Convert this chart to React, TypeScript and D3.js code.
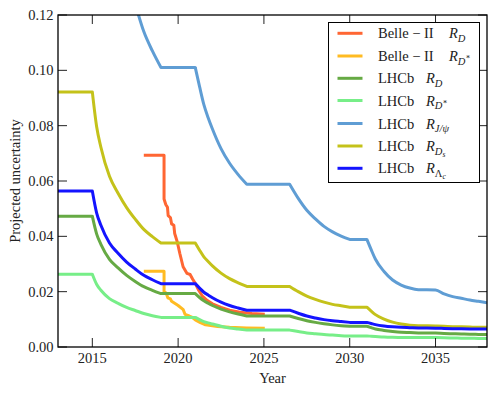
import React from "react";
import * as d3 from "d3";

// ---------- data ----------
const lhcbYears = [2013, 2015, 2015.25, 2015.5, 2016, 2016.5, 2017, 2017.5, 2018, 2018.5, 2019,
  2021, 2021.25, 2021.5, 2021.75, 2022, 2022.5, 2023, 2023.5, 2024,
  2026.5, 2027, 2027.5, 2028, 2028.5, 2029, 2029.5, 2030,
  2031, 2031.25, 2031.5, 2032, 2032.5, 2033, 2033.5, 2034,
  2035, 2035.5, 2036, 2036.5, 2037, 2037.5, 2038];

const lhcbRD = [0.0473, 0.0473, 0.0409, 0.0371, 0.0317, 0.0286, 0.0259, 0.0237, 0.0218, 0.0205, 0.0193,
  0.0193, 0.0179, 0.0167, 0.0158, 0.0150, 0.0137, 0.0127, 0.0119, 0.0112,
  0.0112, 0.0103, 0.0095, 0.0089, 0.0084, 0.0080, 0.0077, 0.0075,
  0.0075, 0.0070, 0.0065, 0.0060, 0.0056, 0.0053, 0.0052, 0.0051,
  0.0051, 0.0049, 0.0048, 0.0047, 0.0046, 0.00455, 0.0045];

const lhcbRDstar = [0.0263, 0.0263, 0.0227, 0.0205, 0.0175, 0.0158, 0.0143, 0.0132, 0.0121, 0.0113, 0.0107,
  0.0107, 0.0099, 0.0092, 0.0087, 0.0083, 0.0075, 0.0069, 0.0065, 0.0061,
  0.0061, 0.0056, 0.0051, 0.0048, 0.0045, 0.0043, 0.0041, 0.0040,
  0.0040, 0.0039, 0.0038, 0.0036, 0.0035, 0.00345, 0.0034, 0.0034,
  0.0034, 0.0033, 0.00325, 0.0032, 0.00315, 0.0031, 0.0031];

const lhcbRJpsi = [0.248, 0.248, 0.214, 0.194, 0.166, 0.149, 0.135, 0.124, 0.114, 0.107, 0.101,
  0.101, 0.0941, 0.0876, 0.0829, 0.0788, 0.0717, 0.0664, 0.0623, 0.0588,
  0.0588, 0.0537, 0.0494, 0.0463, 0.0436, 0.0416, 0.0401, 0.0389,
  0.0389, 0.0352, 0.0317, 0.0273, 0.0242, 0.0224, 0.0213, 0.0207,
  0.0206, 0.0192, 0.0182, 0.0176, 0.0170, 0.0165, 0.0160];

const lhcbRDs = [0.0922, 0.0922, 0.0797, 0.0722, 0.0617, 0.0556, 0.0504, 0.0462, 0.0425, 0.0399, 0.0376,
  0.0376, 0.0350, 0.0326, 0.0309, 0.0293, 0.0267, 0.0247, 0.0232, 0.0219,
  0.0219, 0.0200, 0.0184, 0.0172, 0.0162, 0.0154, 0.0149, 0.0144,
  0.0144, 0.0130, 0.0117, 0.0101, 0.0090, 0.0083, 0.0079, 0.0077,
  0.0076, 0.0075, 0.0073, 0.0073, 0.0072, 0.0071, 0.0071];

const lhcbRLc = [0.0564, 0.0564, 0.0485, 0.0440, 0.0376, 0.0339, 0.0307, 0.0282, 0.0259, 0.0243, 0.0229,
  0.0229, 0.0213, 0.0198, 0.0188, 0.0178, 0.0162, 0.0150, 0.0141, 0.0133,
  0.0133, 0.0122, 0.0112, 0.0105, 0.0099, 0.0095, 0.0092, 0.0089,
  0.0089, 0.0085, 0.0081, 0.0076, 0.0073, 0.0071, 0.0070, 0.0069,
  0.0068, 0.0067, 0.0066, 0.0066, 0.0065, 0.0065, 0.0065];

const belleRDYears = [2018.0, 2019.18, 2019.18, 2019.28, 2019.38, 2019.42, 2019.55, 2019.62, 2019.75, 2019.8,
  2019.95, 2020.1, 2020.29, 2020.52, 2020.7, 2020.85, 2021.0, 2021.2, 2021.4, 2021.7, 2022.0, 2022.5,
  2023.0, 2023.6, 2024.3, 2025.05];
const belleRD = [0.0693, 0.0693, 0.0535, 0.0515, 0.0505, 0.0475, 0.0468, 0.0445, 0.0440, 0.0410,
  0.0380, 0.0338, 0.0290, 0.0266, 0.0262, 0.0245, 0.0230, 0.0205, 0.0185, 0.0168, 0.0156, 0.0143,
  0.0133, 0.0126, 0.0121, 0.0118];

const belleRDstarYears = [2018.0, 2019.18, 2019.18, 2019.3, 2019.4, 2019.55, 2019.62, 2020.0, 2020.3, 2020.4,
  2020.65, 2020.8, 2021.0, 2021.3, 2021.6, 2022.3, 2023.0, 2024.0, 2025.05];
const belleRDstar = [0.0274, 0.0274, 0.0200, 0.0195, 0.0178, 0.0174, 0.0165, 0.0150, 0.0135, 0.0118,
  0.0112, 0.0108, 0.0098, 0.0088, 0.0080, 0.0074, 0.0071, 0.0069, 0.0068];

const xTicks = [2015, 2020, 2025, 2030, 2035];
const yTicks = [0, 0.02, 0.04, 0.06, 0.08, 0.1, 0.12];
const yTickLabels = ["0.00", "0.02", "0.04", "0.06", "0.08", "0.10", "0.12"];

// ---------- layout ----------
const W = 498, H = 393;
const L = 58, R = 487, T = 15, B = 347;
const FONT = "Liberation Serif, Times New Roman, Times, DejaVu Serif, serif";

type Series = { key: string; years: number[]; vals: number[]; color: string; smooth: boolean };

const series: Series[] = [
  { key: "bRD", years: belleRDYears, vals: belleRD, color: "#ff6633", smooth: false },
  { key: "bRDs", years: belleRDstarYears, vals: belleRDstar, color: "#ffbb22", smooth: false },
  { key: "lRD", years: lhcbYears, vals: lhcbRD, color: "#66aa44", smooth: true },
  { key: "lRDs", years: lhcbYears, vals: lhcbRDstar, color: "#77ee88", smooth: true },
  { key: "lJ", years: lhcbYears, vals: lhcbRJpsi, color: "#5f9dd4", smooth: true },
  { key: "lDs", years: lhcbYears, vals: lhcbRDs, color: "#c4c21a", smooth: true },
  { key: "lLc", years: lhcbYears, vals: lhcbRLc, color: "#1414ff", smooth: true },
];

export default function App() {
  const x = d3.scaleLinear().domain([2013, 2038]).range([L, R]);
  const y = d3.scaleLinear().domain([0, 0.12]).range([B, T]);

  const mk = (s: Series) => {
    const pts: [number, number][] = s.years.map((yr, i) => [yr, s.vals[i]]);
    const lin = d3.line<[number, number]>().x((d) => x(d[0])).y((d) => y(d[1]));
    if (!s.smooth) return lin(pts) || "";
    const smooth = d3.line<[number, number]>().x((d) => x(d[0])).y((d) => y(d[1])).curve(d3.curveMonotoneX);
    // split into flat runs (drawn straight) and decay runs (drawn smooth)
    let d = `M${x(pts[0][0])},${y(pts[0][1])}`;
    let i = 0;
    while (i < pts.length - 1) {
      if (pts[i][1] === pts[i + 1][1]) {
        d += `L${x(pts[i + 1][0])},${y(pts[i + 1][1])}`;
        i += 1;
      } else {
        let j = i + 1;
        while (j < pts.length - 1 && pts[j][1] !== pts[j + 1][1]) j++;
        const piece = pts.slice(i, j + 1);
        const ps = piece.length > 2 ? smooth(piece) || "" : lin(piece) || "";
        d += "L" + ps.slice(1);
        i = j;
      }
    }
    return d;
  };

  const fs = 14.5;
  const sub = 10.5;
  const legendX0 = 337.5, legendX1 = 362.5, textX = 378;
  const legendY = [33.3, 56, 78.3, 100.5, 123.5, 146, 168.3];

  const label = (i: number) => {
    const base = legendY[i] + 5;
    const belle = i < 2;
    const rx = belle ? 449 : 426;
    const prefix = belle ? "Belle \u2212 II" : "LHCb";
    let subPart: React.ReactNode = null;
    if (i === 0 || i === 2) {
      subPart = <tspan dy={3.5} fontSize={sub} fontStyle="italic">D</tspan>;
    } else if (i === 1 || i === 3) {
      subPart = (
        <>
          <tspan dy={3.5} fontSize={sub} fontStyle="italic">D</tspan>
          <tspan dy={-5.5} fontSize={7.5}>{"\u2217"}</tspan>
        </>
      );
    } else if (i === 4) {
      subPart = <tspan dy={3.5} fontSize={sub} fontStyle="italic">{"J/\u03c8"}</tspan>;
    } else if (i === 5) {
      subPart = (
        <>
          <tspan dy={3.5} fontSize={sub} fontStyle="italic">D</tspan>
          <tspan dy={2.2} fontSize={7.5} fontStyle="italic">s</tspan>
        </>
      );
    } else {
      subPart = (
        <>
          <tspan dy={3.5} fontSize={sub}>{"\u039b"}</tspan>
          <tspan dy={2.2} fontSize={7.5} fontStyle="italic">c</tspan>
        </>
      );
    }
    return (
      <text key={"lt" + i} x={textX} y={base} style={{ fontFamily: FONT }} fontSize={fs} fill="#222">
        <tspan>{prefix}</tspan>
        <tspan x={rx} fontStyle="italic">R</tspan>
        {subPart}
      </text>
    );
  };

  const txt = { fontFamily: FONT };

  return (
    <svg width={W} height={H} style={{ position: "absolute", left: 0, top: 0, background: "#fff" }}>
      <defs>
        <clipPath id="plotclip">
          <rect x={L} y={T} width={R - L} height={B - T} />
        </clipPath>
      </defs>
      <rect x={0} y={0} width={W} height={H} fill="#fff" />
      <g clipPath="url(#plotclip)">
        {series.map((s) => (
          <path key={s.key} d={mk(s)} fill="none" stroke={s.color} strokeWidth={3} strokeLinejoin="round" />
        ))}
      </g>
      {xTicks.map((t) => (
        <g key={"xt" + t}>
          <line x1={x(t)} x2={x(t)} y1={B} y2={B - 9} stroke="#222" strokeWidth={1} />
          <line x1={x(t)} x2={x(t)} y1={T} y2={T + 9} stroke="#222" strokeWidth={1} />
          <text x={x(t)} y={363} textAnchor="middle" style={txt} fontSize={fs} fill="#222">{t}</text>
        </g>
      ))}
      {yTicks.map((t, i) => (
        <g key={"yt" + t}>
          <line x1={L} x2={L + 9} y1={y(t)} y2={y(t)} stroke="#222" strokeWidth={1} />
          <line x1={R} x2={R - 9} y1={y(t)} y2={y(t)} stroke="#222" strokeWidth={1} />
          <text x={53.5} y={y(t) + 5} textAnchor="end" style={txt} fontSize={fs} fill="#222">{yTickLabels[i]}</text>
        </g>
      ))}
      <rect x={L} y={T} width={R - L} height={B - T} fill="none" stroke="#000" strokeWidth={1.3} />
      <text x={(L + R) / 2} y={383} textAnchor="middle" style={txt} fontSize={fs} fill="#222">Year</text>
      <text transform={`translate(20,${(T + B) / 2}) rotate(-90)`} textAnchor="middle" style={txt} fontSize={fs} fill="#222">Projected uncertainty</text>
      <rect x={328.5} y={22.5} width={151} height={160} fill="#fff" stroke="#000" strokeWidth={1} />
      {series.map((s, i) => (
        <line key={"ll" + i} x1={legendX0} x2={legendX1} y1={legendY[i]} y2={legendY[i]} stroke={s.color} strokeWidth={3} />
      ))}
      {series.map((_, i) => label(i))}
    </svg>
  );
}
